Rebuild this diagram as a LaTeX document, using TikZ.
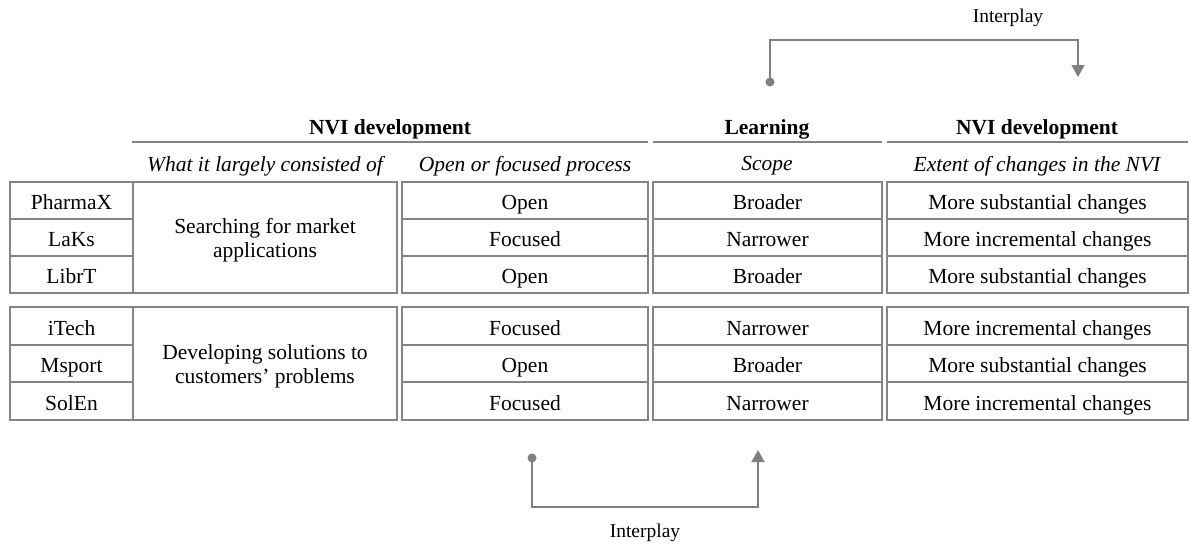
\documentclass[tikz,border=0pt]{standalone}
\usepackage{fontspec}
\setmainfont{Liberation Serif}
\usetikzlibrary{arrows.meta}
\tikzset{
  cell/.style={draw=black!48, line width=1.8pt, rectangle, inner sep=0pt, align=center, font=\fontsize{21.5}{24}\selectfont},
  hdr/.style={font=\fontsize{21.5}{24}\selectfont\bfseries, inner sep=0pt},
  sub/.style={font=\fontsize{21.5}{24}\selectfont\itshape, inner sep=0pt},
  rule/.style={draw=black!48, line width=1.8pt},
  link/.style={draw=black!50, line width=1.5pt},
  lbl/.style={font=\fontsize{19.5}{22}\selectfont, inner sep=0pt},
}
\newcommand{\cellat}[6]{% name, x1, y1, x2, y2, text
  \node[cell, minimum width={(#4-#2)*1pt}, minimum height={(#5-#3)*1pt}] (#1) at ({(#2+#4)/2},{(#3+#5)/2}) {\rule[-5.5pt]{0pt}{29.5pt}#6};}
\newcommand{\cellml}[6]{% multi-line cell
  \node[cell, minimum width={(#4-#2)*1pt}, minimum height={(#5-#3)*1pt}] (#1) at ({(#2+#4)/2},{(#3+#5)/2}) {\rule{0pt}{20.5pt}#6};}
\begin{document}
\begin{tikzpicture}[x=1pt,y=-1pt]
\useasboundingbox (0,0) rectangle (1190,547);
% headers
\node[hdr] (h1) at (390,129) {NVI development};
\node[hdr] (h2) at (767,129) {Learning};
\node[hdr] (h3) at (1037,129) {NVI development};
\draw[rule] (132,142) -- (648,142);
\draw[rule] (653,142) -- (882,142);
\draw[rule] (887,142) -- (1188,142);
\node[sub] (s1) at (265,166) {What it largely consisted of};
\node[sub] (s2) at (525,166) {Open or focused process};
\node[sub] (s3) at (767,166) {Scope};
\node[sub] (s4) at (1037,166) {Extent of changes in the NVI};
% group 1
\cellat{c11}{10}{182}{133}{219}{PharmaX}
\cellat{c12}{10}{219}{133}{256}{LaKs}
\cellat{c13}{10}{256}{133}{293}{LibrT}
\cellml{g1}{133}{182}{397}{293}{Searching for market\\applications}
\cellat{o11}{402}{182}{648}{219}{Open}
\cellat{o12}{402}{219}{648}{256}{Focused}
\cellat{o13}{402}{256}{648}{293}{Open}
\cellat{l11}{653}{182}{882}{219}{Broader}
\cellat{l12}{653}{219}{882}{256}{Narrower}
\cellat{l13}{653}{256}{882}{293}{Broader}
\cellat{e11}{887}{182}{1188}{219}{More substantial changes}
\cellat{e12}{887}{219}{1188}{256}{More incremental changes}
\cellat{e13}{887}{256}{1188}{293}{More substantial changes}
% group 2
\cellat{c21}{10}{307}{133}{344.7}{iTech}
\cellat{c22}{10}{344.7}{133}{382.3}{Msport}
\cellat{c23}{10}{382.3}{133}{420}{SolEn}
\cellml{g2}{133}{307}{397}{420}{Developing solutions to\\customers{\char"0027} problems}
\cellat{o21}{402}{307}{648}{344.7}{Focused}
\cellat{o22}{402}{344.7}{648}{382.3}{Open}
\cellat{o23}{402}{382.3}{648}{420}{Focused}
\cellat{l21}{653}{307}{882}{344.7}{Narrower}
\cellat{l22}{653}{344.7}{882}{382.3}{Broader}
\cellat{l23}{653}{382.3}{882}{420}{Narrower}
\cellat{e21}{887}{307}{1188}{344.7}{More incremental changes}
\cellat{e22}{887}{344.7}{1188}{382.3}{More substantial changes}
\cellat{e23}{887}{382.3}{1188}{420}{More incremental changes}
% top interplay
\coordinate (ta) at (770,82);
\coordinate (tb) at (1078,77);
\fill[black!50] (ta) circle (4.5);
\draw[link, -{Triangle[width=13pt,length=12pt]}] (ta) -- (770,40) -- (1078,40) -- (tb);
\node[lbl] (ti) at (1008,18) {Interplay};
% bottom interplay
\coordinate (ba) at (532,458);
\coordinate (bb) at (758,450);
\fill[black!50] (ba) circle (4.5);
\draw[link, -{Triangle[width=13pt,length=12pt]}] (ba) -- (532,507) -- (758,507) -- (bb);
\node[lbl] (bi) at (645,533) {Interplay};
\end{tikzpicture}
\end{document}
